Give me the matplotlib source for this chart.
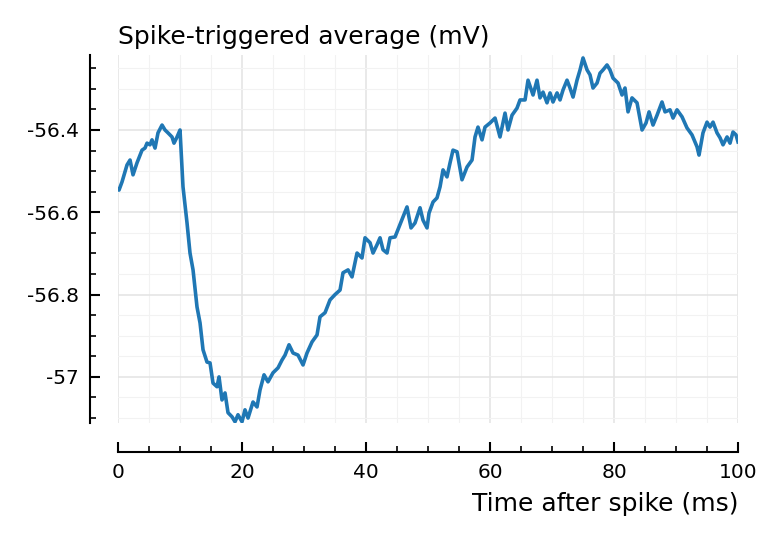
import matplotlib
matplotlib.use("Agg")
import matplotlib.pyplot as plt
from matplotlib.ticker import MultipleLocator, FuncFormatter

plt.rcParams['axes.unicode_minus'] = False
plt.rcParams['font.family'] = 'DejaVu Sans'

# spike-triggered average
time_ms = [0.0, 0.16, 0.65, 1.45, 1.94, 2.42, 3.06, 3.87, 4.35, 4.68, 5.16, 5.48,
           5.97, 6.45, 7.10, 7.58, 8.06, 8.71, 9.03, 9.52, 10.0, 10.48, 11.13,
           11.61, 12.10, 12.74, 13.23, 13.71, 14.35, 14.84, 15.32, 15.97, 16.29,
           16.77, 17.26, 17.74, 18.39, 18.87, 19.35, 20.0, 20.48, 20.97, 21.77,
           22.42, 22.90, 23.55, 24.19, 25.0, 25.81, 26.45, 26.94, 27.58, 28.23,
           29.03, 29.84, 30.48, 31.29, 32.10, 32.58, 33.39, 34.19, 35.0, 35.81,
           36.29, 37.10, 37.74, 38.55, 39.35, 39.84, 40.65, 41.13, 41.77, 42.26,
           42.74, 43.39, 43.87, 44.68, 45.32, 45.97, 46.61, 47.26, 47.90, 48.71,
           49.19, 49.84, 50.16, 50.81, 51.45, 51.94, 52.42, 53.06, 53.55, 54.03,
           54.68, 55.48, 56.29, 57.10, 57.58, 58.06, 58.71, 59.19, 60.0, 60.81,
           61.61, 62.42, 62.90, 63.55, 64.35, 64.84, 65.65, 66.13, 66.94, 67.58,
           68.06, 68.55, 69.19, 69.68, 70.16, 70.81, 71.29, 71.77, 72.42, 72.90,
           73.39, 74.03, 74.52, 75.0, 75.65, 76.13, 76.61, 77.26, 77.74, 78.23,
           78.87, 79.35, 79.84, 80.65, 81.29, 81.77, 82.26, 82.90, 83.71, 84.52,
           85.16, 85.65, 86.29, 86.94, 87.74, 88.23, 89.03, 89.52, 90.16, 90.97,
           91.77, 92.58, 93.39, 93.71, 94.35, 95.0, 95.48, 95.97, 96.61, 97.10,
           97.58, 98.23, 98.71, 99.19, 99.68, 100.0]
sta_mv = [-56.545, -56.546, -56.526, -56.485, -56.473, -56.509, -56.480, -56.449,
          -56.444, -56.432, -56.436, -56.424, -56.444, -56.407, -56.388, -56.400,
          -56.407, -56.417, -56.432, -56.417, -56.400, -56.538, -56.626, -56.699,
          -56.740, -56.830, -56.869, -56.934, -56.964, -56.966, -57.015, -57.024,
          -57.000, -57.056, -57.039, -57.087, -57.097, -57.109, -57.092, -57.109,
          -57.080, -57.100, -57.061, -57.073, -57.032, -56.995, -57.012, -56.990,
          -56.978, -56.959, -56.947, -56.922, -56.942, -56.947, -56.971, -56.942,
          -56.915, -56.898, -56.854, -56.844, -56.813, -56.800, -56.789, -56.747,
          -56.740, -56.757, -56.699, -56.711, -56.662, -56.674, -56.699, -56.679,
          -56.662, -56.691, -56.699, -56.662, -56.660, -56.636, -56.611, -56.587,
          -56.638, -56.626, -56.589, -56.619, -56.638, -56.602, -56.575, -56.565,
          -56.538, -56.497, -56.514, -56.480, -56.449, -56.453, -56.521, -56.490,
          -56.473, -56.417, -56.393, -56.424, -56.393, -56.383, -56.371, -56.417,
          -56.359, -56.400, -56.364, -56.347, -56.327, -56.327, -56.279, -56.315,
          -56.279, -56.322, -56.308, -56.334, -56.310, -56.332, -56.310, -56.327,
          -56.303, -56.279, -56.298, -56.320, -56.279, -56.254, -56.225, -56.254,
          -56.266, -56.298, -56.286, -56.262, -56.254, -56.242, -56.254, -56.274,
          -56.286, -56.315, -56.298, -56.356, -56.322, -56.334, -56.400, -56.383,
          -56.356, -56.388, -56.364, -56.332, -56.356, -56.351, -56.371, -56.351,
          -56.368, -56.395, -56.412, -56.441, -56.461, -56.407, -56.381, -56.393,
          -56.381, -56.407, -56.419, -56.436, -56.417, -56.432, -56.405, -56.412,
          -56.429]

fig = plt.figure(figsize=(7.79, 5.40), dpi=100)
ax = fig.add_axes([0.1515, 0.2167, 0.7959, 0.6813])

ax.plot(time_ms, sta_mv, color='#1f77b4', lw=2.6, solid_joinstyle='round')

ax.set_xlim(0, 100)
ax.set_ylim(-57.112, -56.218)

ax.xaxis.set_major_locator(MultipleLocator(20))
ax.xaxis.set_minor_locator(MultipleLocator(5))
ax.yaxis.set_major_locator(MultipleLocator(0.2))
ax.yaxis.set_minor_locator(MultipleLocator(0.05))
ax.yaxis.set_major_formatter(FuncFormatter(lambda v, p: f'{v:g}'))

ax.grid(which='major', color='#e3e3e3', lw=1.1)
ax.grid(which='minor', color='#f2f2f2', lw=0.8)
ax.set_axisbelow(True)

for s in ['top', 'right']:
    ax.spines[s].set_visible(False)
ax.spines['left'].set_position(('outward', 20))
ax.spines['bottom'].set_position(('outward', 21))
ax.spines['left'].set_linewidth(1.5)
ax.spines['bottom'].set_linewidth(1.5)

ax.tick_params(which='major', direction='in', length=7, width=1.5, labelsize=14.5, pad=8)
ax.tick_params(which='minor', direction='in', length=4, width=1.2)

ax.set_title('Spike-triggered average (mV)', loc='left', fontsize=18, pad=8)
ax.set_xlabel('Time after spike (ms)', fontsize=18, loc='right', labelpad=7)

fig.savefig('out.png', dpi=100)
